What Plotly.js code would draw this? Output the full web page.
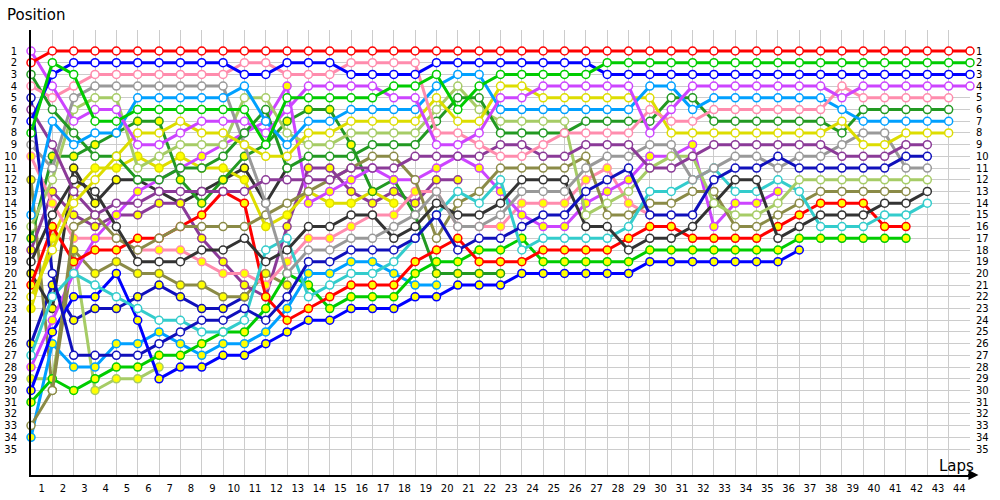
<!DOCTYPE html>
<html><head><meta charset="utf-8">
<script src="https://cdn.plot.ly/plotly-3.0.1.min.js"></script>
<style>html,body{margin:0;padding:0;background:#fff}#c{width:1000px;height:500px}</style>
</head><body><div id="c"></div>
<script>
const laps = [0,1,2,3,4,5,6,7,8,9,10,11,12,13,14,15,16,17,18,19,20,21,22,23,24,25,26,27,28,29,30,31,32,33,34,35,36,37,38,39,40,41,42,43,44];
const lapLabels = ["1","2","3","4","5","6","7","8","9","10","11","12","13","14","15","16","17","18","19","20","21","22","23","24","25","26","27","28","29","30","31","32","33","34","35","36","37","38","39","40","41","42","43","44"];
const positions = [1,2,3,4,5,6,7,8,9,10,11,12,13,14,15,16,17,18,19,20,21,22,23,24,25,26,27,28,29,30,31,32,33,34,35];

// positions per lap (index = lap, starting at lap 0 = grid)
const posRedW = [2,1,1,1,1,1,1,1,1,1,1,1,1,1,1,1,1,1,1,1,1,1,1,1,1,1,1,1,1,1,1,1,1,1,1,1,1,1,1,1,1,1,1,1,1];
const posGreenW = [8,2,3,7,7,6,6,6,6,6,6,9,5,5,5,5,5,4,4,3,6,4,3,3,3,3,3,2,2,2,2,2,2,2,2,2,2,2,2,2,2,2,2,2,2];
const posBlueW = [7,3,2,2,2,2,2,2,2,2,3,3,2,2,2,3,3,3,3,2,2,2,2,2,2,2,2,3,3,3,3,3,3,3,3,3,3,3,3,3,3,3,3,3,3];
const posVioletW = [1,4,7,6,6,9,9,8,7,7,7,8,6,4,4,4,4,5,5,9,9,8,5,5,4,4,4,4,4,8,6,4,4,4,4,4,4,4,5,4,4,4,4,4,4];
const posPinkW = [4,5,4,3,3,3,3,3,3,3,2,2,3,3,3,2,2,2,2,8,8,9,10,10,9,8,8,8,8,6,7,7,6,6,6,6,6,6,4,5,5,5,5,5];
const posLightblueW = [15,7,9,8,8,5,5,5,5,5,4,7,9,7,7,6,6,6,6,4,3,3,6,6,6,6,6,6,6,4,4,6,5,5,5,5,5,5,6,7,7,7,7,7];
const posYellowW = [22,18,14,12,10,8,8,7,8,8,9,10,10,8,8,7,7,7,7,5,7,7,4,4,5,5,5,5,5,5,8,8,8,8,8,8,8,8,7,9,9,8,8,8];
const posDarkgreenW = [3,6,8,10,10,12,12,11,11,10,8,6,11,10,10,10,9,9,9,7,5,5,8,8,8,8,7,7,7,7,5,5,7,7,7,7,7,7,8,6,6,6,6,6];
const posPurpleW = [6,9,13,15,14,14,13,13,13,13,13,12,12,12,12,11,11,11,10,10,10,10,9,9,10,10,9,9,9,11,11,10,9,9,9,9,9,9,10,10,10,9,9];
const posDarkblueW = [5,20,27,27,27,27,26,25,24,24,23,24,22,19,19,18,18,18,17,15,18,17,17,16,15,15,13,12,11,15,15,15,12,11,11,10,11,11,11,11,11,10,10];
const posGrayW = [9,11,5,4,4,4,4,4,4,4,9,14,20,18,18,17,17,16,15,13,16,16,15,13,13,13,11,10,10,9,9,12,11,10,10,11,10,10,9,8,8,11,11];
const posLightgreenW = [16,12,6,5,5,11,10,9,9,9,5,5,8,9,9,8,8,8,8,6,4,6,7,7,7,7,15,14,13,11,10,10,14,15,15,14,12,12,12,12,12,12,12];
const posBlackW = [19,15,12,13,16,19,19,19,18,18,17,19,18,16,16,15,15,17,16,14,15,15,14,12,12,12,16,16,18,17,17,16,14,12,12,17,16,15,15,15,14,14,13];
const posCyanW = [27,22,20,21,22,23,24,24,25,25,24,18,17,22,21,20,20,19,17,15,13,14,12,18,17,17,17,17,16,13,13,12,11,13,13,12,13,16,16,16,15,15,14];
const posOliveW = [33,30,16,15,17,18,17,16,16,16,16,15,14,13,12,11,10,10,12,17,14,13,11,11,11,11,10,15,15,14,14,13,13,16,16,15,14,13,13,13,13,13];
const posRedY = [21,16,19,18,18,17,17,16,15,13,14,22,24,23,22,21,21,21,19,18,17,19,19,19,18,18,18,18,17,16,16,17,17,17,17,16,15,14,14,14,16,16];
const posGreenY = [31,29,30,29,28,28,27,27,26,25,25,23,20,21,23,22,22,22,20,19,19,18,18,17,19,19,19,19,19,18,18,18,18,18,18,18,17,17,17,17,17,17];
const posBlueY = [30,25,22,22,20,24,29,28,28,27,27,26,25,24,24,23,23,23,22,22,21,21,21,20,20,20,20,20,20,19,19,19,19,19,19,19,18];
const posLightblueY = [34,26,28,28,26,26,25,26,27,26,26,25,23,20,20,19,19,20,21,21];
const posVioletY = [28,24,20,17,15,13,12,11,10,9,8,7,4,14,13,12,11,12,12,11,10,11,13,15,16,16,14,13,12,10,10,9,16,14,14,13];
const posPinkY = [10,14,17,17,17,18,18,18,19,20,20,21,19,17,17,16,15,15,13,13,16,16,16,14,14,14,12,11,14,15];
const posDarkgreenY = [17,10,10,9,8,7,7,12,14,12,10,9,7,6,6,9,13,12,15,20,20,20,20];
const posYellowY = [23,17,13,11,11,10,11,10,11,11,12,16,15,13,14,14,13,14];
const posPurpleY = [18,13,15,16,15,15,14,14,17,19,21,22,16,11,11,13,14,13,14,12,12];
const posBlackY = [20,23,11,14,12,12,13,14,13,12,11,14,11];
const posOliveY = [12,30,18,20,19,20,20,21,21,22,22,20,21];
const posLightgreenY = [29,29,18,30,29,29,28];
const posDarkblueY = [26,21,24,23,23,22,21,22,23,23,22];

const series = [
  {name:"A1", pos:posRedW, color:"#ff0000", fill:"#ffffff"},
  {name:"A2", pos:posGreenW, color:"#00cc00", fill:"#ffffff"},
  {name:"A3", pos:posBlueW, color:"#0000ff", fill:"#ffffff"},
  {name:"A4", pos:posVioletW, color:"#cc44ff", fill:"#ffffff"},
  {name:"A5", pos:posPinkW, color:"#ff8cad", fill:"#ffffff"},
  {name:"A6", pos:posLightblueW, color:"#00a0ff", fill:"#ffffff"},
  {name:"A7", pos:posYellowW, color:"#dddd00", fill:"#ffffff"},
  {name:"A8", pos:posDarkgreenW, color:"#229922", fill:"#ffffff"},
  {name:"A9", pos:posPurpleW, color:"#8b3a98", fill:"#ffffff"},
  {name:"A10", pos:posDarkblueW, color:"#1010bb", fill:"#ffffff"},
  {name:"A11", pos:posGrayW, color:"#999999", fill:"#ffffff"},
  {name:"A12", pos:posLightgreenW, color:"#a6cc66", fill:"#ffffff"},
  {name:"A13", pos:posBlackW, color:"#333333", fill:"#ffffff"},
  {name:"A14", pos:posCyanW, color:"#33cccc", fill:"#ffffff"},
  {name:"A15", pos:posOliveW, color:"#8b8b47", fill:"#ffffff"},
  {name:"B1", pos:posRedY, color:"#ff0000", fill:"#ffff00"},
  {name:"B2", pos:posGreenY, color:"#00cc00", fill:"#ffff00"},
  {name:"B3", pos:posBlueY, color:"#0000ff", fill:"#ffff00"},
  {name:"B4", pos:posLightblueY, color:"#00a0ff", fill:"#ffff00"},
  {name:"B5", pos:posVioletY, color:"#cc44ff", fill:"#ffff00"},
  {name:"B6", pos:posPinkY, color:"#ff8cad", fill:"#ffff00"},
  {name:"B7", pos:posDarkgreenY, color:"#229922", fill:"#ffff00"},
  {name:"B8", pos:posYellowY, color:"#dddd00", fill:"#ffff00"},
  {name:"B9", pos:posPurpleY, color:"#8b3a98", fill:"#ffff00"},
  {name:"B10", pos:posBlackY, color:"#333333", fill:"#ffff00"},
  {name:"B11", pos:posOliveY, color:"#8b8b47", fill:"#ffff00"},
  {name:"B12", pos:posLightgreenY, color:"#a6cc66", fill:"#ffff00"},
  {name:"B13", pos:posDarkblueY, color:"#1010bb", fill:"#ffff00"}
];

const traces = series.slice().reverse().map(s => ({
  type:"scatter", mode:"lines+markers", name:s.name,
  x: laps.slice(0, s.pos.length), y: s.pos,
  line:{color:s.color, width:3},
  marker:{symbol:"circle", size:8, color:s.fill, line:{color:s.color, width:1.5}},
  hoverinfo:"skip", cliponaxis:false
}));

const lapTickPos = [0.5,1.5,2.5,3.5,4.5,5.5,6.5,7.5,8.5,9.5,10.5,11.5,12.5,13.5,14.5,15.5,16.5,17.5,18.5,19.5,20.5,21.5,22.5,23.5,24.5,25.5,26.5,27.5,28.5,29.5,30.5,31.5,32.5,33.5,34.5,35.5,36.5,37.5,38.5,39.5,40.5,41.5,42.5,43.5];

const tickFont = {family:"DejaVu Sans, Verdana, sans-serif", size:10, color:"#000"};
const titleFont = {family:"DejaVu Sans, Verdana, sans-serif", size:15, color:"#000"};
const yRange = [37.221, -0.794];

const layout = {
  width:1000, height:500,
  margin:{l:31, r:30, t:30, b:25, pad:0},
  paper_bgcolor:"#fff", plot_bgcolor:"#fff",
  showlegend:false,
  font: tickFont,
  xaxis:{range:[0,44], tickvals:laps.slice(1), showticklabels:false, ticks:"",
         showgrid:true, gridcolor:"#cccccc", gridwidth:1, zeroline:false,
         showline:true, linecolor:"#000", linewidth:2, fixedrange:true},
  xaxis2:{range:[0,44], overlaying:"x", anchor:"y", side:"bottom",
          tickvals:lapTickPos, ticktext:lapLabels, ticks:"", showgrid:false, zeroline:false,
          showline:false, tickfont:tickFont, ticklabelstandoff:6, fixedrange:true},
  yaxis:{range:yRange, tickvals:positions, ticktext:positions.map(String), ticks:"",
         showgrid:true, gridcolor:"#cccccc", gridwidth:1, zeroline:false,
         showline:true, linecolor:"#000", linewidth:2, tickfont:tickFont, ticklabelstandoff:10, fixedrange:true},
  yaxis2:{range:yRange, overlaying:"y", side:"right", anchor:"x",
          tickvals:positions, ticktext:positions.map(String), ticks:"", showgrid:false,
          zeroline:false, showline:false, tickfont:tickFont, ticklabelstandoff:5, fixedrange:true},
  annotations:[
    {xref:"paper", yref:"paper", x:-0.028, y:1.034, xanchor:"left", yanchor:"middle",
     text:"Position", showarrow:false, font:titleFont},
    {xref:"paper", yref:"paper", x:1.006, y:-0.004, xanchor:"right", yanchor:"bottom",
     text:"Laps", showarrow:false, font:titleFont},
    {xref:"paper", yref:"paper", x:1.009, y:0, axref:"pixel", ayref:"pixel", ax:-12, ay:0,
     text:"", showarrow:true, arrowhead:2, arrowsize:1, arrowwidth:2, arrowcolor:"#000"}
  ]
};

const dummy = {type:"scatter", x:[], y:[], xaxis:"x2", yaxis:"y2", hoverinfo:"skip", showlegend:false};

Plotly.newPlot("c", traces.concat([dummy]), layout, {staticPlot:true, displayModeBar:false});
</script></body></html>
